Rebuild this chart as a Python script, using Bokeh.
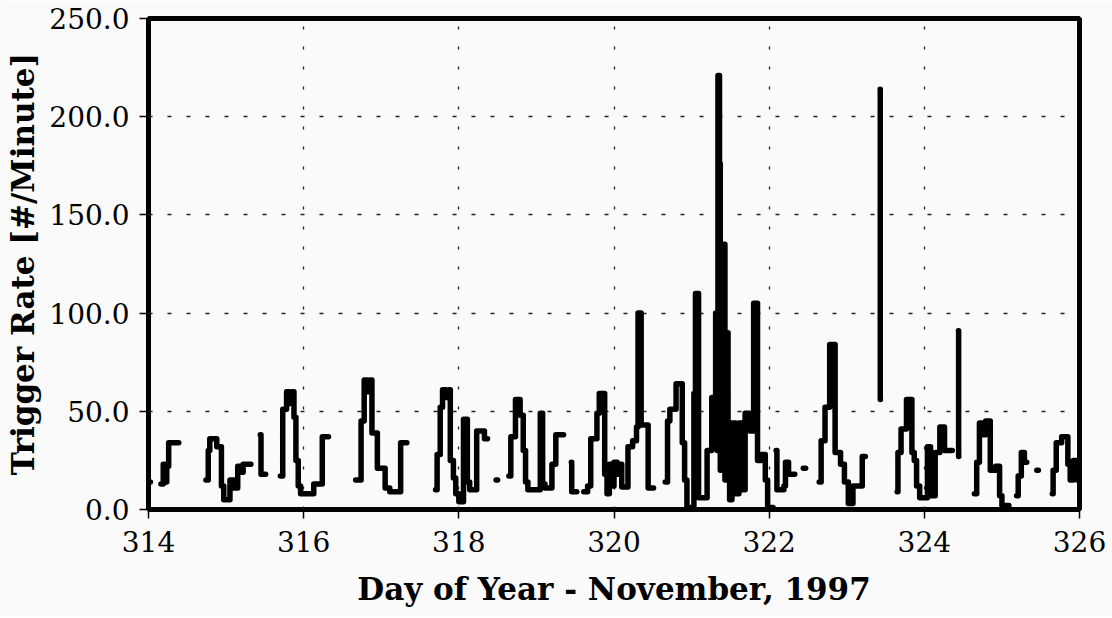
import math
from bokeh.plotting import figure
from bokeh.models import FixedTicker, NumeralTickFormatter, Range1d
from bokeh.embed import file_html
from bokeh.resources import INLINE

NaN = float("nan")

# Day of year (step "after": each value holds until the next day value; NaN = gap)
day = [
    314.00, 314.025, NaN,
    314.16, 314.19, 314.21, 314.235, 314.26, 314.39, NaN,
    314.74, 314.77, 314.79, 314.88, 314.94, 314.97, 315.05, 315.10, 315.15, 315.20, 315.22, 315.32, NaN,
    315.44, 315.45, 315.51, NaN,
    315.70, 315.73, 315.78, 315.82, 315.85, 315.875, 315.90, 315.93, 315.96, 316.13, 316.24, 316.32, NaN,
    316.67, 316.74, 316.78, 316.82, 316.85, 316.88, 316.95, 317.05, 317.11, 317.25, 317.33, NaN,
    317.70, 317.72, 317.76, 317.79, 317.84, 317.87, 317.89, 317.93, 317.96, 318.00, 318.06, 318.11, 318.14, 318.23, 318.33, 318.37, NaN,
    318.48, 318.50, NaN,
    318.645, 318.67, 318.73, 318.79, 318.83, 318.86, 318.89, 319.05, 319.08, 319.11, 319.20, 319.25, 319.35, NaN,
    319.45, 319.455, 319.52, NaN,
    319.61, 319.66, 319.70, 319.78, 319.81, 319.88, 319.91, 319.94, 319.97, 320.00, 320.04, 320.07, 320.10, 320.18, 320.24, 320.29, 320.31, 320.35, 320.44, 320.51, NaN,
    320.66, 320.69, 320.72, 320.80, 320.88, 320.91, 320.94, 321.03, 321.05, 321.09, 321.20, 321.26,
    321.31, 321.33, 321.34, 321.36, 321.37, 321.39, 321.41, 321.43, 321.45, 321.47, 321.49,
    321.52, 321.57, 321.61, 321.65, 321.69, 321.75, 321.80, 321.85, 321.90, 321.95, 321.98, 322.05, NaN,
    322.09, 322.10, 322.19, 322.21, 322.25, 322.33, NaN,
    322.44, 322.47, NaN,
    322.645, 322.67, 322.72, 322.78, 322.85, 322.92, 322.97, 323.02, 323.08, 323.20, 323.24, NaN,
    323.430, 323.432, 323.434, NaN,
    323.65, 323.66, 323.70, 323.77, 323.84, 323.87, 323.90, 323.94, 324.04, 324.08, 324.14, 324.20, 324.26, 324.36, NaN,
    324.440, 324.442, 324.444, NaN,
    324.645, 324.675, 324.71, 324.75, 324.79, 324.85, 324.92, 324.97, 325.00, 325.09, NaN,
    325.19, 325.21, 325.25, 325.29, 325.32, NaN,
    325.45, 325.47, NaN,
    325.65, 325.66, 325.70, 325.77, 325.85, 325.88, 325.92, 325.97, 326.00,
]

# Trigger rate [#/minute]
rate = [
    14, 14, NaN,
    13, 23, 14, 22, 34, 34, NaN,
    15, 30, 36, 32, 12, 5, 15, 11, 22, 19, 23, 23, NaN,
    38, 18, 18, NaN,
    17, 51, 60, 54, 60, 47, 25, 12, 8, 13, 37, 37, NaN,
    15, 45, 66, 60, 66, 39, 21, 11, 9, 34, 34, NaN,
    10, 28, 52, 61, 57, 61, 25, 16, 8, 4, 46, 14, 10, 40, 36, 36, NaN,
    15, 15, NaN,
    17, 37, 56, 48, 30, 14, 10, 49, 13, 11, 23, 38, 38, NaN,
    24, 9, 9, NaN,
    9, 12, 36, 49, 59, 18, 8, 23, 12, 24, 18, 23, 11.5, 32, 35, 42, 100, 43, 11, 11, NaN,
    14, 45, 51, 64, 34, 15, 1, 59, 110, 6, 30, 57,
    100, 30, 221, 176, 20, 110, 135, 15, 90, 40, 5,
    44, 8, 44, 10, 49, 40, 105, 25, 28, 15, 1, 1, NaN,
    30, 10, 12, 24, 18, 18, NaN,
    21, 21, NaN,
    14, 35, 52, 84, 29, 23, 14, 3, 12, 27, 27, NaN,
    214, 56, 56, NaN,
    9, 29, 41, 56, 29, 25, 12, 6, 32, 7, 29, 42, 30, 30, NaN,
    91, 27, 27, NaN,
    8, 24, 44, 38, 45, 20, 22, 7, 2, 2, NaN,
    7, 17, 29, 24, 24, NaN,
    20, 20, NaN,
    8, 20, 34, 37, 23, 15, 25, 15, 15,
]

x_ticks = [314, 316, 318, 320, 322, 324, 326]
y_ticks = [0, 50, 100, 150, 200, 250]

SERIF = "DejaVu Serif"

p = figure(
    width=1112, height=615,
    x_range=Range1d(314, 326), y_range=Range1d(0, 250),
    output_backend="svg", toolbar_location=None,
    min_border_left=148, min_border_right=33, min_border_top=18, min_border_bottom=106,
    background_fill_color="#fafafa", border_fill_color="#fafafa",
)

# split into segments at gaps
segments = []
cx, cy = [], []
for x, y in zip(day, rate):
    if math.isnan(x):
        if cx:
            segments.append((cx, cy))
        cx, cy = [], []
    else:
        cx.append(x)
        cy.append(y)
if cx:
    segments.append((cx, cy))

for sx, sy in segments:
    p.step(sx, sy, mode="after", line_color="black", line_width=5.5,
           line_cap="round", line_join="round")

p.xaxis.ticker = FixedTicker(ticks=x_ticks)
p.yaxis.ticker = FixedTicker(ticks=y_ticks)
p.yaxis.formatter = NumeralTickFormatter(format="0.0")
p.xaxis.axis_label = "Day of Year - November, 1997"
p.yaxis.axis_label = "Trigger Rate [#/Minute]"

for ax in (p.xaxis, p.yaxis):
    ax.axis_label_text_font = SERIF
    ax.axis_label_text_font_style = "bold"
    ax.axis_label_text_font_size = "31px"
    ax.axis_label_text_color = "black"
    ax.major_label_text_font = SERIF
    ax.major_label_text_font_size = "28px"
    ax.major_label_text_color = "black"
    ax.axis_line_color = None
    ax.major_tick_line_color = "black"
    ax.major_tick_line_width = 1.5
    ax.major_tick_out = 9
    ax.major_tick_in = 0
    ax.minor_tick_out = 0
    ax.minor_tick_in = 0

p.xaxis.major_label_standoff = 12
p.xaxis.axis_label_standoff = 16
p.yaxis.major_label_standoff = 10
p.yaxis.axis_label_standoff = 5

p.xgrid.ticker = FixedTicker(ticks=x_ticks)
p.ygrid.ticker = FixedTicker(ticks=y_ticks)
p.xgrid.grid_line_color = "#222222"
p.xgrid.grid_line_width = 1.3
p.xgrid.grid_line_dash = "3 17"
p.ygrid.grid_line_color = "#222222"
p.ygrid.grid_line_width = 1.3
p.ygrid.grid_line_dash = "4 15"

p.outline_line_color = "black"
p.outline_line_width = 5

open("out.html", "w").write(file_html(p, INLINE))
